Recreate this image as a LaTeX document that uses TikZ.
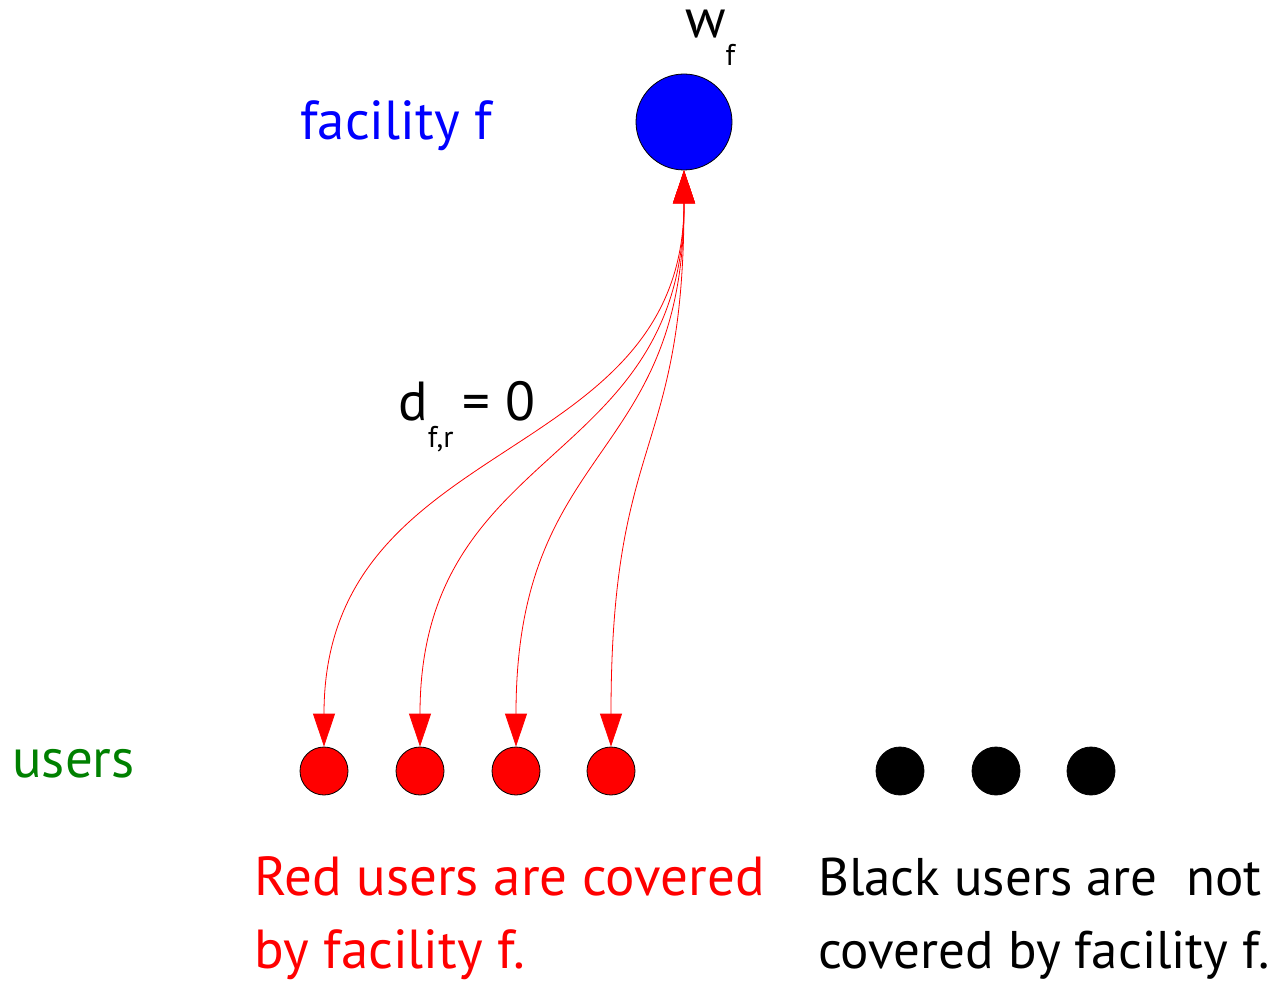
\documentclass[tikz,border=0pt]{standalone}
\usepackage{fontspec}
\setmainfont{PT Sans}
\usetikzlibrary{arrows.meta}
\definecolor{fblue}{RGB}{0,0,255}
\definecolor{ured}{RGB}{255,0,0}
\definecolor{ugreen}{RGB}{0,128,0}
\begin{document}
\begin{tikzpicture}[x=1pt,y=-1pt,
  facility/.style={circle,draw=black,line width=0.8pt,fill=fblue,minimum size=96pt,inner sep=0pt},
  reduser/.style={circle,draw=black,line width=0.8pt,fill=ured,minimum size=48pt,inner sep=0pt},
  blackuser/.style={circle,draw=black,line width=0.8pt,fill=black,minimum size=48pt,inner sep=0pt},
  link/.style={draw=ured,line width=0.8pt,{Triangle[length=33pt,width=22pt]}-{Triangle[length=33pt,width=22pt]}},
  big/.style={font=\fontsize{55}{73}\selectfont,inner sep=0pt,align=left},
  bigb/.style={font=\fontsize{53}{73}\selectfont,inner sep=0pt,align=left}
]
\useasboundingbox (0,0) rectangle (1282,984);
\node[facility] (f) at (684,122) {};
\node[reduser] (r1) at (324,771) {};
\node[reduser] (r2) at (420,771) {};
\node[reduser] (r3) at (516,771) {};
\node[reduser] (r4) at (611,771) {};
\node[blackuser] (b1) at (900,771) {};
\node[blackuser] (b2) at (996,771) {};
\node[blackuser] (b3) at (1091,771) {};

\draw[link] (f.south) .. controls (684,470) and (324,430) .. (r1.north);
\draw[link] (f.south) .. controls (684,470) and (420,440) .. (r2.north);
\draw[link] (f.south) .. controls (684,465) and (516,440) .. (r3.north);
\draw[link] (f.south) .. controls (684,460) and (611,430) .. (r4.north);

\node[big,anchor=base west,text=fblue] (lf) at (300,140) {facility f};
\node[big,anchor=base west] (lw) at (685,38) {w\raisebox{-0.5em}{\fontsize{30}{32}\selectfont f}};
\node[big,anchor=base west] (ld) at (398,420) {d\raisebox{-0.5em}{\fontsize{30}{32}\selectfont f,r}\,= 0};
\node[big,anchor=base west,text=ugreen] (lu) at (12,777) {users};
\node[big,anchor=base west,text=ured] (lr) at (254,895) {Red users are covered};
\node[big,anchor=base west,text=ured] (lr2) at (254,968) {by facility f.};
\node[bigb,anchor=base west] (lb) at (818,895) {Black users are~~not};
\node[bigb,anchor=base west] (lb2) at (818,968) {covered by facility f.};
\end{tikzpicture}
\end{document}
